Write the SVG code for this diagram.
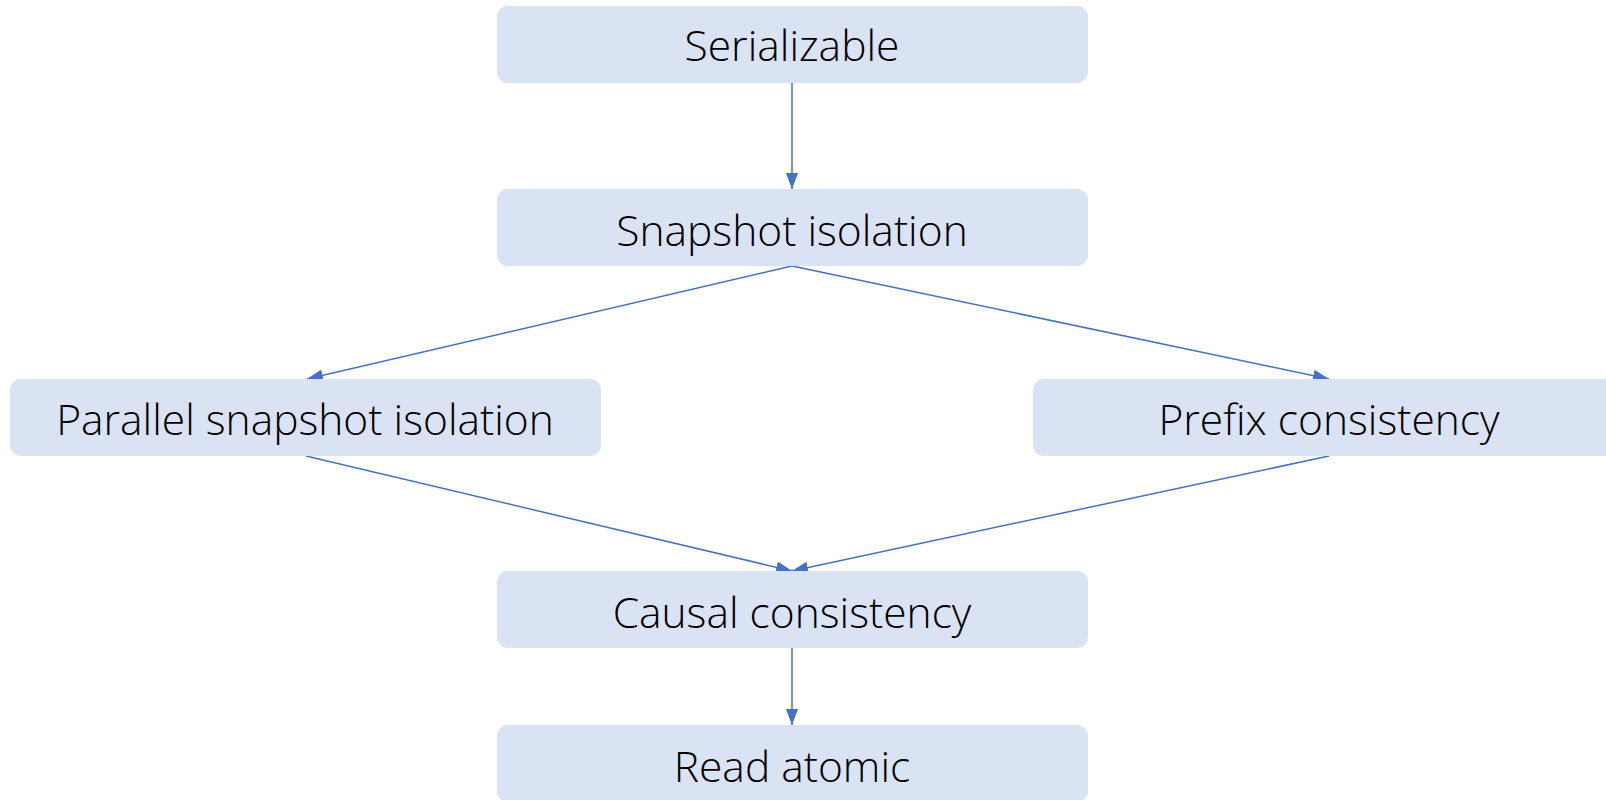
<svg xmlns="http://www.w3.org/2000/svg" width="1606" height="800" viewBox="0 0 1606 800">
  <defs>
    <style>
      .box { fill: #DAE3F3; }
      .label { font-family: "Open Sans", "Liberation Sans", sans-serif; font-weight: 300; font-size: 42.5px; fill: #000000; text-anchor: middle; }
      .edge { stroke: #4472C4; stroke-width: 1.5; fill: none; marker-end: url(#arrow); }
    </style>
    <marker id="arrow" viewBox="0 0 16 12" refX="16" refY="6" markerWidth="16" markerHeight="12" markerUnits="userSpaceOnUse" orient="auto">
      <path d="M0,0 L16,6 L0,12 z" fill="#4472C4"/>
    </marker>
  </defs>
  <rect width="1606" height="800" fill="#FFFFFF"/>

  <g id="connectors">
    <line class="edge" x1="792" y1="82" x2="792" y2="189"/>
    <line class="edge" x1="792" y1="266" x2="307" y2="379"/>
    <line class="edge" x1="792" y1="266" x2="1329" y2="379"/>
    <line class="edge" x1="306" y1="456" x2="792" y2="571"/>
    <line class="edge" x1="1329" y1="456" x2="792" y2="571"/>
    <line class="edge" x1="792" y1="648" x2="792" y2="725"/>
  </g>

  <g id="serializable">
    <rect class="box" x="497" y="6" width="591" height="77" rx="11"/>
    <text class="label" x="792" y="61">Serializable</text>
  </g>
  <g id="snapshot-isolation">
    <rect class="box" x="497" y="189" width="591" height="77" rx="11"/>
    <text class="label" x="792" y="246">Snapshot isolation</text>
  </g>
  <g id="parallel-snapshot-isolation">
    <rect class="box" x="10" y="379" width="591" height="77" rx="11"/>
    <text class="label" x="305" y="435">Parallel snapshot isolation</text>
  </g>
  <g id="prefix-consistency">
    <rect class="box" x="1033" y="379" width="591" height="77" rx="11"/>
    <text class="label" x="1329" y="435">Prefix consistency</text>
  </g>
  <g id="causal-consistency">
    <rect class="box" x="497" y="571" width="591" height="77" rx="11"/>
    <text class="label" x="792" y="628">Causal consistency</text>
  </g>
  <g id="read-atomic">
    <rect class="box" x="497" y="725" width="591" height="77" rx="11"/>
    <text class="label" x="792" y="782">Read atomic</text>
  </g>
</svg>
